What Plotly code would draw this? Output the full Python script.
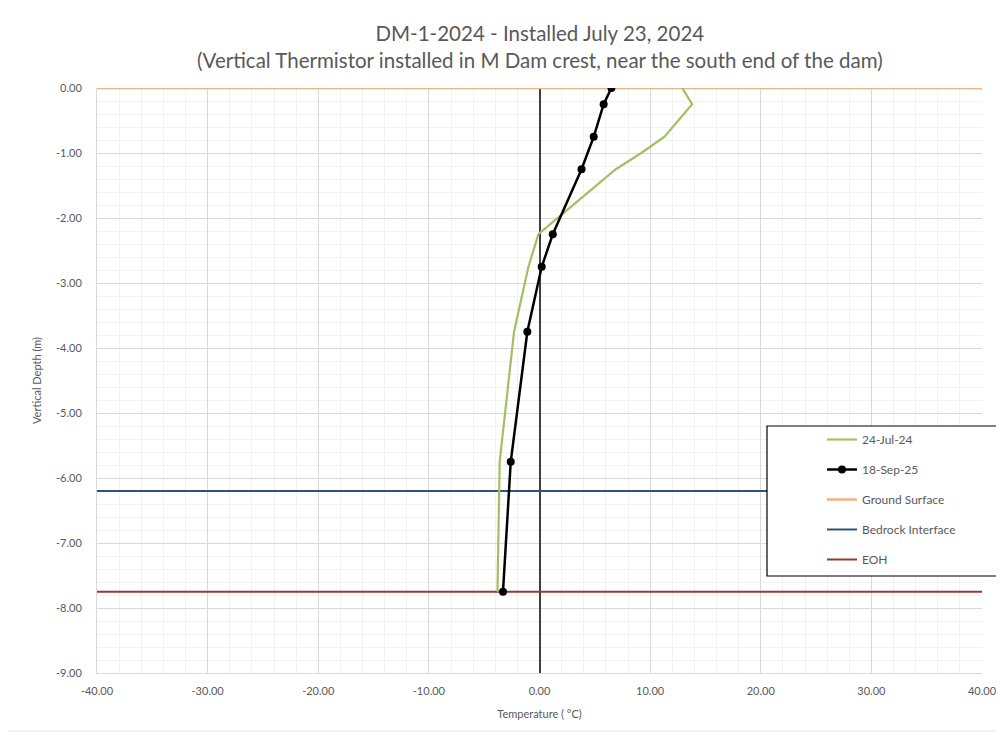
import plotly.graph_objects as go

# --- data ---
depth_jul = [0.0, -0.25, -0.75, -1.0, -1.25, -2.25, -2.75, -3.75, -5.75, -7.75]
temp_jul = [12.9, 13.8, 11.3, 9.2, 6.9, -0.1, -1.0, -2.3, -3.6, -3.8]

depth_sep = [0.0, -0.25, -0.75, -1.25, -2.25, -2.75, -3.75, -5.75, -7.75]
temp_sep = [6.5, 5.8, 4.9, 3.8, 1.2, 0.2, -1.1, -2.6, -3.3]

x_span = [-40, 40]
ground_depth = 0.0
bedrock_depth = -6.2
eoh_depth = -7.75

x_ticks = [-40, -30, -20, -10, 0, 10, 20, 30, 40]
y_ticks = [0, -1, -2, -3, -4, -5, -6, -7, -8, -9]

GREEN = "#A3BF63"
ORANGE = "#F4B183"
BLUE = "#2E5478"
MAROON = "#9E3535"
FONT = "Lato"

fig = go.Figure()

# reference lines (drawn first so data sits on top)
fig.add_trace(go.Scatter(x=x_span, y=[ground_depth] * 2, mode="lines", name="Ground Surface",
                         line=dict(color=ORANGE, width=2.5), legendrank=3, legendgroup="g3"))
fig.add_trace(go.Scatter(x=x_span, y=[bedrock_depth] * 2, mode="lines", name="Bedrock Interface",
                         line=dict(color=BLUE, width=2), legendrank=4, legendgroup="g4"))
fig.add_trace(go.Scatter(x=x_span, y=[eoh_depth] * 2, mode="lines", name="EOH",
                         line=dict(color=MAROON, width=2), legendrank=5, legendgroup="g5"))

# thermistor profiles
fig.add_trace(go.Scatter(x=temp_jul, y=depth_jul, mode="lines", name="24-Jul-24",
                         line=dict(color=GREEN, width=2.2), legendrank=1, legendgroup="g1"))
fig.add_trace(go.Scatter(x=temp_sep, y=depth_sep, mode="lines+markers", name="18-Sep-25",
                         line=dict(color="black", width=2.5),
                         marker=dict(color="black", size=8), legendrank=2, legendgroup="g2"))

# page body adds 8px, so the plot area (97..982, 88..673 on screen) is offset here
def px_x(p):
    return (p - 97) / 885.0

def px_y(p):
    return (673 - p) / 585.0

shapes = [
    # legend box (runs off the right edge like the original)
    dict(type="rect", xref="paper", yref="paper", layer="above",
         x0=px_x(767), x1=px_x(1030), y0=px_y(576), y1=px_y(426),
         line=dict(color="black", width=1.2), fillcolor="white"),
    # outer chart border
    dict(type="rect", xref="paper", yref="paper", layer="below",
         x0=px_x(7), x1=px_x(1040), y0=px_y(731), y1=px_y(7),
         line=dict(color="#E3E3E3", width=1), fillcolor="rgba(0,0,0,0)"),
]

title_text = ("DM-1-2024 - Installed July 23, 2024<br>"
              "(Vertical Thermistor installed in M Dam crest, near the south end of the dam)")

fig.update_layout(
    width=1004, height=734,
    margin=dict(l=89, r=30, t=80, b=69, autoexpand=False),
    paper_bgcolor="white", plot_bgcolor="white",
    font=dict(family=FONT, color="#595959", size=11),
    showlegend=True,
    legend=dict(
        x=px_x(822), y=px_y(425), xanchor="left", yanchor="top",
        bgcolor="rgba(0,0,0,0)", borderwidth=0,
        font=dict(family=FONT, size=12, color="#595959"),
        tracegroupgap=11, itemwidth=30,
    ),
    shapes=shapes,
    annotations=[dict(
        text=title_text, xref="paper", yref="paper", x=0.5, y=px_y(19),
        xanchor="center", yanchor="top", showarrow=False, align="center",
        font=dict(family=FONT, size=20.5, color="#595959"),
    )],
)

fig.update_xaxes(
    range=[-40, 40], tickvals=x_ticks, ticktext=[f"{v:.2f}" for v in x_ticks],
    automargin=False,
    showgrid=True, gridcolor="#D9D9D9", gridwidth=1,
    minor=dict(dtick=2, showgrid=True, gridcolor="#F2F2F2"),
    zeroline=True, zerolinecolor="#404040", zerolinewidth=2,
    showline=True, linecolor="#D9D9D9", linewidth=1, mirror=False,
    ticks="", ticklabelstandoff=8,
    title=dict(text="Temperature ( °C)", font=dict(size=11, color="#595959"), standoff=14),
)
fig.update_yaxes(
    range=[-9, 0], tickvals=y_ticks, ticktext=[f"{v:.2f}" for v in y_ticks],
    automargin=False,
    showgrid=True, gridcolor="#D9D9D9", gridwidth=1,
    minor=dict(dtick=0.2, showgrid=True, gridcolor="#F2F2F2"),
    zeroline=False,
    showline=True, linecolor="#D9D9D9", linewidth=1,
    ticks="", ticklabelstandoff=12,
    title=dict(text="Vertical Depth (m)", font=dict(size=11, color="#595959"), standoff=12),
)

fig.write_html("out.html")
